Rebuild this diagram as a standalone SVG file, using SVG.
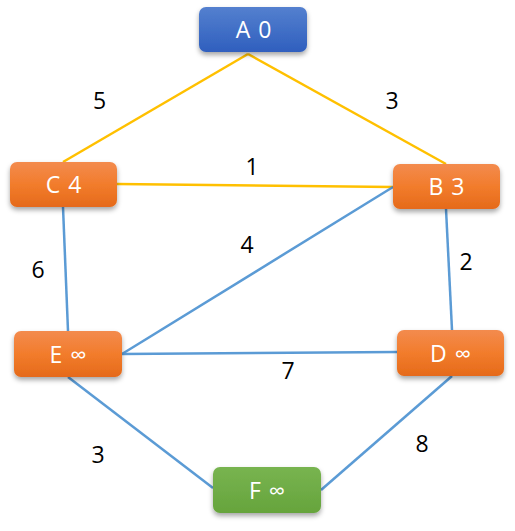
<svg xmlns="http://www.w3.org/2000/svg" width="515" height="531" viewBox="0 0 515 531">
<style>
.y{stroke:#FFC000;stroke-width:2.5;fill:none}
.b{stroke:#5B9BD5;stroke-width:2.5;fill:none}
.lbl{font-family:"Open Sans","Noto Sans",sans-serif;font-size:23px;fill:#000;text-anchor:middle}
.nt{font-family:"Open Sans","Noto Sans",sans-serif;font-size:23px;fill:#fff;text-anchor:middle;word-spacing:2px}
</style>
<defs>
<linearGradient id="gb" x1="0" y1="0" x2="0" y2="1"><stop offset="0" stop-color="#5480CF"/><stop offset="1" stop-color="#2F5FBE"/></linearGradient>
<linearGradient id="go" x1="0" y1="0" x2="0" y2="1"><stop offset="0" stop-color="#F38B4E"/><stop offset="0.5" stop-color="#F27C2C"/><stop offset="1" stop-color="#E56A1A"/></linearGradient>
<linearGradient id="gg" x1="0" y1="0" x2="0" y2="1"><stop offset="0" stop-color="#78B450"/><stop offset="1" stop-color="#66A43C"/></linearGradient>
<filter id="sh" x="-20%" y="-20%" width="140%" height="160%"><feDropShadow dx="0" dy="3" stdDeviation="2.5" flood-color="#000" flood-opacity="0.35"/></filter>
</defs>
<g id="connectors">
<line class="y" x1="248" y1="54" x2="63" y2="162"/>
<line class="y" x1="248" y1="54" x2="446" y2="164"/>
<line class="y" x1="117" y1="184" x2="393" y2="187"/>
<line class="b" x1="63" y1="207" x2="68" y2="331"/>
<line class="b" x1="446" y1="209" x2="452" y2="330"/>
<line class="b" x1="393" y1="187" x2="122" y2="354"/>
<line class="b" x1="122" y1="354" x2="397" y2="352"/>
<line class="b" x1="68" y1="377" x2="213" y2="488"/>
<line class="b" x1="452" y1="376" x2="321" y2="490"/>
</g>
<g id="edge-labels">
<text class="lbl" x="99.5" y="109">5</text>
<text class="lbl" x="392" y="108.5">3</text>
<text class="lbl" x="252" y="175">1</text>
<text class="lbl" x="247" y="252.5">4</text>
<text class="lbl" x="38" y="277.5">6</text>
<text class="lbl" x="466" y="269.5">2</text>
<text class="lbl" x="288" y="378.5">7</text>
<text class="lbl" x="98" y="462.5">3</text>
<text class="lbl" x="422" y="451.5">8</text>
</g>
<g id="node-A"><rect x="199" y="7" width="108" height="45" rx="7" fill="url(#gb)" filter="url(#sh)"/><text class="nt" x="253.5" y="37.5">A 0</text></g>
<g id="node-C"><rect x="10" y="162" width="107" height="45" rx="7" fill="url(#go)" filter="url(#sh)"/><text class="nt" x="63.5" y="193">C 4</text></g>
<g id="node-B"><rect x="393" y="164" width="107" height="45" rx="7" fill="url(#go)" filter="url(#sh)"/><text class="nt" x="446.5" y="195">B 3</text></g>
<g id="node-E"><rect x="14" y="331" width="108" height="46" rx="7" fill="url(#go)" filter="url(#sh)"/><text class="nt" x="68" y="362.5">E ∞</text></g>
<g id="node-D"><rect x="397" y="330" width="107" height="46" rx="7" fill="url(#go)" filter="url(#sh)"/><text class="nt" x="450.5" y="361.5">D ∞</text></g>
<g id="node-F"><rect x="213" y="467" width="108" height="46" rx="7" fill="url(#gg)" filter="url(#sh)"/><text class="nt" x="267" y="498.5">F ∞</text></g>
</svg>
